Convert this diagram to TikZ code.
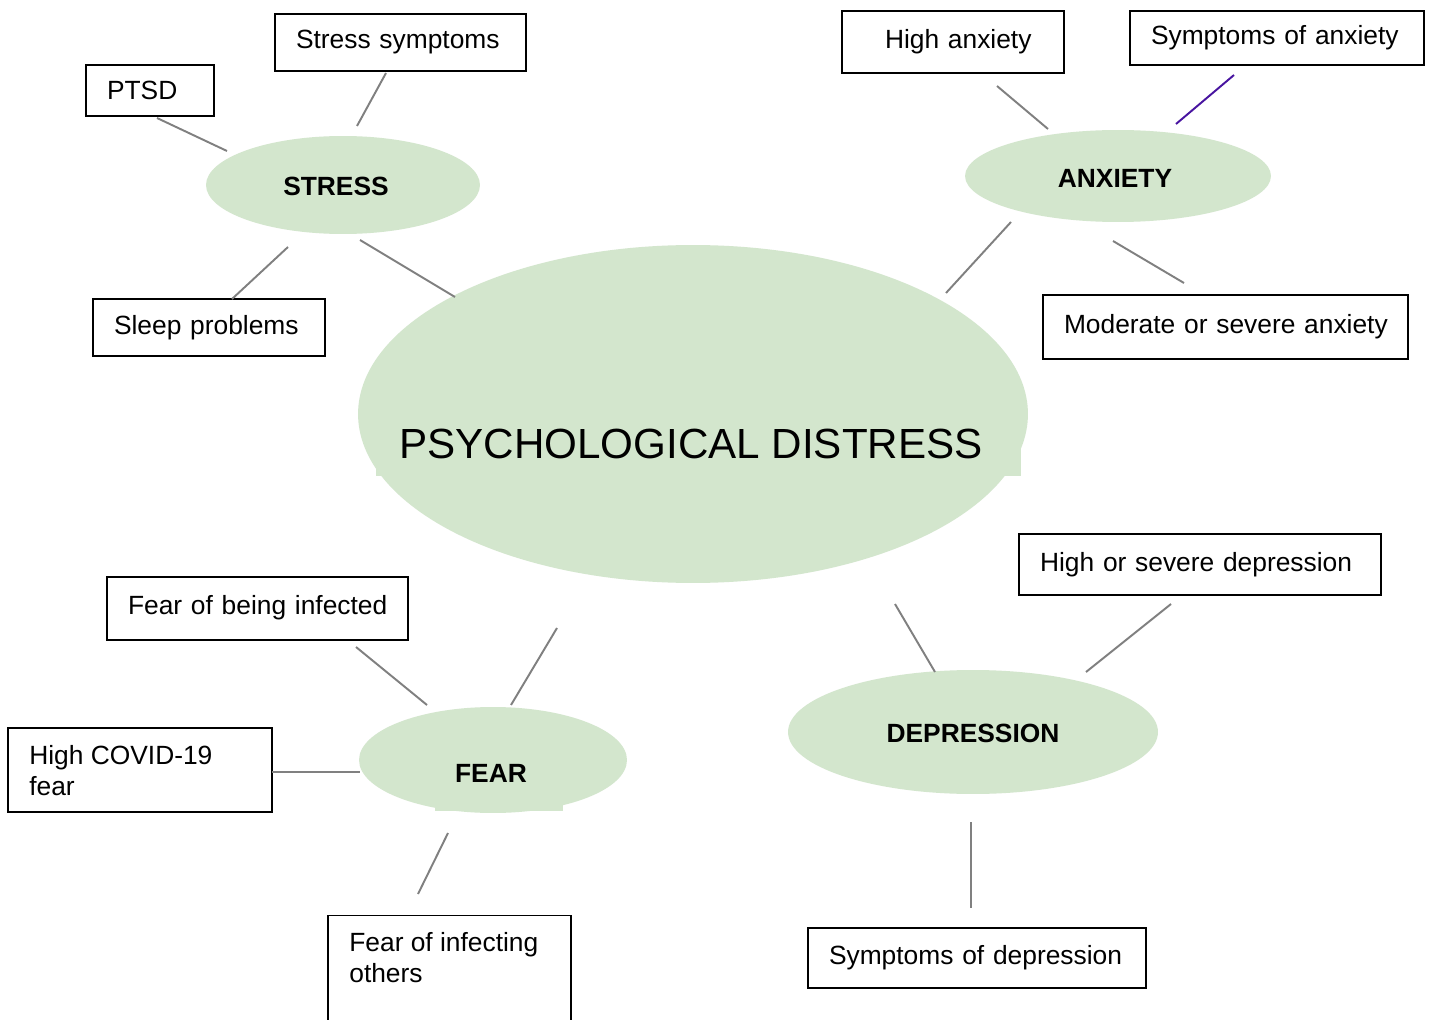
\documentclass[tikz,border=0pt]{standalone}
\usepackage{fontspec}
\setmainfont{Liberation Sans}
\usetikzlibrary{shapes.geometric}
\definecolor{egreen}{RGB}{211,230,205}
\definecolor{lgray}{RGB}{128,128,128}
\definecolor{purp}{RGB}{72,20,160}
\tikzset{
  blob/.style={ellipse,fill=egreen,draw=none,inner sep=0pt},
  btext/.style={font=\fontsize{15}{18}\selectfont\bfseries,inner sep=0pt},
  tbox/.style={draw=black,line width=0.8pt,fill=white,inner ysep=0pt,inner xsep=0.42cm,align=left,font=\fontsize{15}{18}\selectfont},
  ebox/.style={draw=black,line width=0.8pt,fill=white,inner sep=0pt},
  mtext/.style={font=\fontsize{15}{17.5}\selectfont,align=left,inner sep=0pt,anchor=north west},
  conn/.style={draw=lgray,line width=1.1pt},
}
\begin{document}
\begin{tikzpicture}[x=0.02cm,y=-0.02cm]
\fill[white] (0,0) rectangle (1430,1020);
\clip (0,0) rectangle (1430,1020);
\useasboundingbox (0,0) rectangle (1430,1020);

% ellipses
\node[blob,minimum width=5.48cm,minimum height=1.96cm] (stress) at (343,185) {};
\node[btext] (stresst) at (336,186) {STRESS};
\node[blob,minimum width=6.12cm,minimum height=1.84cm] (anx) at (1118,176) {};
\node[btext] (anxt) at (1115,178) {ANXIETY};
\fill[egreen] (376,405) rectangle (1021,476);
\node[blob,minimum width=13.4cm,minimum height=6.76cm] (psy) at (693,414) {};
\node[inner sep=0pt,font=\fontsize{24}{28}\selectfont] (psyt) at (691,444) {PSYCHOLOGICAL DISTRESS};
\fill[egreen] (435,780) rectangle (563,811);
\node[blob,minimum width=5.36cm,minimum height=2.12cm] (fear) at (493,760) {};
\node[btext] (feart) at (491,773) {FEAR};
\node[blob,minimum width=7.4cm,minimum height=2.48cm] (dep) at (973,732) {};
\node[btext] (dept) at (973,733) {DEPRESSION};

% boxes
\node[tbox,text width=4.18cm,minimum height=1.14cm] (ss) at (400.5,42.5) {\raisebox{-1pt}{Stress symptoms}};
\node[tbox,text width=1.72cm,minimum height=1.02cm] (ptsd) at (150,90.5) {\raisebox{-1pt}{PTSD}};
\node[tbox,inner xsep=0.86cm,text width=2.72cm,minimum height=1.24cm] (ha) at (953,42) {\raisebox{2pt}{High anxiety}};
\node[tbox,text width=5.04cm,minimum height=1.08cm] (sa) at (1277,38) {\raisebox{-1pt}{Symptoms of anxiety}};
\node[tbox,text width=3.8cm,minimum height=1.14cm] (sp) at (209,327.5) {Sleep problems};
\node[tbox,text width=6.46cm,minimum height=1.28cm] (msa) at (1225.5,327) {\raisebox{4pt}{Moderate or severe anxiety}};
\node[tbox,text width=6.4cm,minimum height=1.22cm] (hsd) at (1200,564.5) {\raisebox{2.5pt}{High or severe depression}};
\node[tbox,text width=5.18cm,minimum height=1.26cm] (fbi) at (257.5,608.5) {\raisebox{4pt}{Fear of being infected}};
\node[ebox,minimum width=5.28cm,minimum height=1.68cm] (hcf) at (140,770) {};
\node[mtext] (hcft) at (29,745) {High COVID-19\\fear};
\node[ebox,minimum width=4.86cm,minimum height=2.6cm,anchor=north] (fio) at (449.5,915) {};
\node[mtext] (fiot) at (349,932) {Fear of infecting\\others};
\node[tbox,text width=5.92cm,minimum height=1.2cm] (sd) at (977,958) {\raisebox{2pt}{Symptoms of depression}};

% connector end points
\coordinate (c1a) at (386,73);   \coordinate (c1b) at (357,126);
\coordinate (c2a) at (157,118);  \coordinate (c2b) at (227,151);
\coordinate (c3a) at (288,247);  \coordinate (c3b) at (232,299);
\coordinate (c4a) at (360,240);  \coordinate (c4b) at (455,297);
\coordinate (c5a) at (997,86);   \coordinate (c5b) at (1048,129);
\coordinate (c6a) at (1234,75);  \coordinate (c6b) at (1176,124);
\coordinate (c7a) at (1011,222); \coordinate (c7b) at (946,293);
\coordinate (c8a) at (1113,241); \coordinate (c8b) at (1184,283);
\coordinate (c9a) at (895,604);  \coordinate (c9b) at (935,672);
\coordinate (c10a) at (1171,604); \coordinate (c10b) at (1086,672);
\coordinate (c11a) at (971,822); \coordinate (c11b) at (971,908);
\coordinate (c12a) at (356,647); \coordinate (c12b) at (427,705);
\coordinate (c13a) at (557,628); \coordinate (c13b) at (511,705);
\coordinate (c14a) at (272,772); \coordinate (c14b) at (360,772);
\coordinate (c15a) at (448,833); \coordinate (c15b) at (418,894);

\draw[conn] (c1a) -- (c1b);
\draw[conn] (c2a) -- (c2b);
\draw[conn] (c3a) -- (c3b);
\draw[conn] (c4a) -- (c4b);
\draw[conn] (c5a) -- (c5b);
\draw[conn,draw=purp] (c6a) -- (c6b);
\draw[conn] (c7a) -- (c7b);
\draw[conn] (c8a) -- (c8b);
\draw[conn] (c9a) -- (c9b);
\draw[conn] (c10a) -- (c10b);
\draw[conn] (c11a) -- (c11b);
\draw[conn] (c12a) -- (c12b);
\draw[conn] (c13a) -- (c13b);
\draw[conn] (c14a) -- (c14b);
\draw[conn] (c15a) -- (c15b);
\end{tikzpicture}
\end{document}
